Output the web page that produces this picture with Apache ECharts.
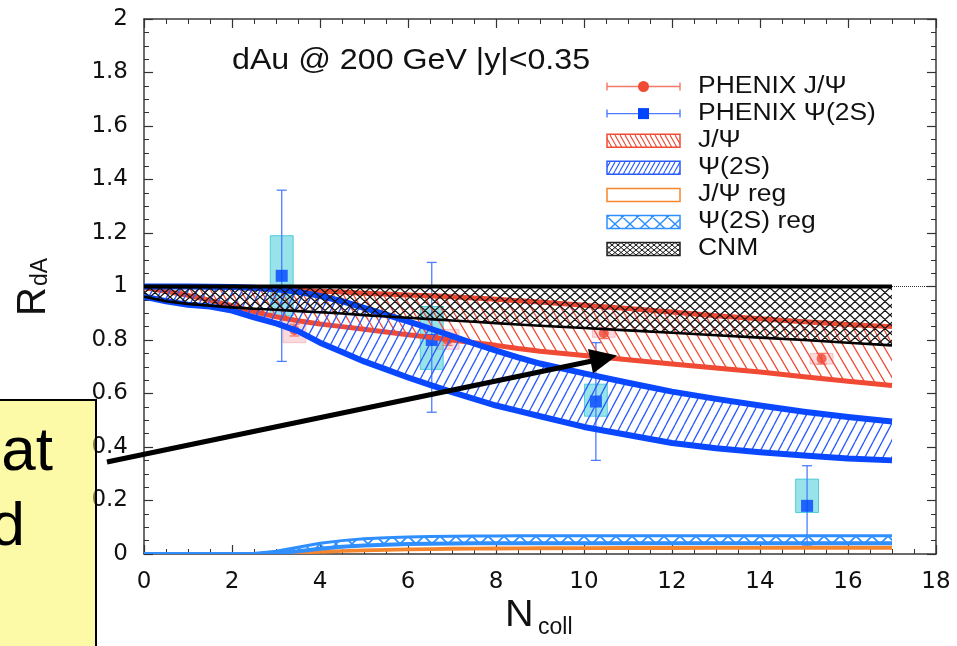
<!DOCTYPE html>
<html>
<head>
<meta charset="utf-8">
<script src="https://cdn.jsdelivr.net/npm/echarts@6/dist/echarts.min.js"></script>
<style>
  html, body { margin: 0; padding: 0; background: #ffffff; }
  #chart { width: 957px; height: 646px; }
</style>
</head>
<body>
<div id="chart"></div>
<script>
// ---- Theory curves, sampled on a common N_coll grid ----
const ncoll = [0, 0.5, 1, 1.5, 2, 2.5, 3, 3.5, 4, 4.5, 5, 5.5, 6, 6.5, 7, 7.5, 8, 8.5, 9, 10, 11, 12, 13, 14, 15, 16, 17];

const cnmHigh = [1, 1, 1, 1, 1, 1, 1, 1, 1, 1, 1, 1, 1, 1, 1, 1, 1, 1, 1, 1, 1, 1, 1, 1, 1, 1, 1];
const cnmLow = [0.962, 0.945, 0.935, 0.928, 0.922, 0.917, 0.913, 0.908, 0.904, 0.899, 0.893, 0.888, 0.883, 0.878, 0.873, 0.868, 0.863, 0.858, 0.853, 0.845, 0.836, 0.827, 0.818, 0.809, 0.800, 0.790, 0.780];

const jpsiHigh = [1.000, 1.000, 1.000, 0.999, 0.997, 0.994, 0.990, 0.986, 0.982, 0.979, 0.975, 0.972, 0.968, 0.965, 0.962, 0.957, 0.952, 0.947, 0.942, 0.930, 0.918, 0.905, 0.891, 0.879, 0.868, 0.858, 0.850];
const jpsiLow = [0.995, 0.982, 0.967, 0.948, 0.928, 0.906, 0.887, 0.872, 0.860, 0.850, 0.840, 0.830, 0.820, 0.810, 0.800, 0.790, 0.780, 0.768, 0.758, 0.742, 0.726, 0.710, 0.695, 0.680, 0.663, 0.646, 0.630];

const psiHigh = [1.000, 1.000, 1.000, 0.999, 0.998, 0.995, 0.990, 0.980, 0.965, 0.945, 0.920, 0.895, 0.870, 0.843, 0.815, 0.787, 0.760, 0.735, 0.712, 0.675, 0.640, 0.607, 0.580, 0.555, 0.532, 0.512, 0.495];
const psiLow = [0.962, 0.945, 0.932, 0.925, 0.910, 0.885, 0.862, 0.833, 0.790, 0.755, 0.720, 0.690, 0.660, 0.632, 0.605, 0.580, 0.555, 0.535, 0.515, 0.475, 0.445, 0.415, 0.395, 0.380, 0.368, 0.357, 0.350];

const psiRegHigh = [0, 0, 0, 0, 0, 0.002, 0.010, 0.025, 0.040, 0.050, 0.057, 0.061, 0.064, 0.065, 0.066, 0.067, 0.067, 0.068, 0.068, 0.068, 0.068, 0.068, 0.068, 0.068, 0.068, 0.068, 0.068];
const psiRegLow = [0, 0, 0, 0, 0, 0, 0.003, 0.010, 0.020, 0.027, 0.032, 0.035, 0.037, 0.038, 0.039, 0.040, 0.040, 0.040, 0.040, 0.040, 0.040, 0.040, 0.040, 0.040, 0.040, 0.040, 0.040];

const jpsiRegHigh = [0, 0, 0, 0, 0, 0, 0.002, 0.005, 0.009, 0.013, 0.016, 0.018, 0.020, 0.021, 0.022, 0.022, 0.023, 0.023, 0.024, 0.024, 0.025, 0.025, 0.025, 0.025, 0.026, 0.026, 0.026];
const jpsiRegLow = [0, 0, 0, 0, 0, 0, 0.001, 0.003, 0.006, 0.009, 0.011, 0.013, 0.015, 0.016, 0.017, 0.018, 0.018, 0.019, 0.019, 0.020, 0.020, 0.020, 0.021, 0.021, 0.021, 0.021, 0.021];

// ---- PHENIX measurements ----
const phxJpsiX = [3.42, 6.9, 10.45, 15.4];
const phxJpsiY = [0.837, 0.80, 0.825, 0.73];
const phxJpsiStatLo = [0.815, 0.78, 0.805, 0.71];
const phxJpsiStatHi = [0.859, 0.82, 0.845, 0.75];
const phxJpsiSysLo = [0.79, 0.765, 0.81, 0.71];
const phxJpsiSysHi = [0.875, 0.84, 0.845, 0.75];

const phxPsiX = [3.13, 6.54, 10.27, 15.07];
const phxPsiY = [1.04, 0.80, 0.57, 0.18];
const phxPsiStatLo = [0.72, 0.53, 0.35, 0.03];
const phxPsiStatHi = [1.36, 1.09, 0.79, 0.33];
const phxPsiSysLo = [0.89, 0.69, 0.515, 0.155];
const phxPsiSysHi = [1.19, 0.925, 0.635, 0.28];

// ---- Axis and label text ----
const xTicks = { min: 0, max: 18, step: 2 };
const yTicks = { min: 0, max: 2, step: 0.2 };
const legendLabels = ['PHENIX J/\u03A8', 'PHENIX \u03A8(2S)', 'J/\u03A8', '\u03A8(2S)', 'J/\u03A8 reg', '\u03A8(2S) reg', 'CNM'];
const titleText = 'dAu @ 200 GeV |y|<0.35';

// ---- Colours ----
const RED = '#f04a34';
const BLUE = '#0a48ff';
const ORANGE = '#f5862e';
const REGBLUE = '#2f8fff';
const ERRBLUE = '#4d7dff';

// Hatch pattern tiles (diagonal "/" , "\" or crossed "x")
function hatch(w, h, color, lw, kind) {
  const c = document.createElement('canvas');
  c.width = w; c.height = h;
  const g = c.getContext('2d');
  g.strokeStyle = color;
  g.lineWidth = lw;
  g.beginPath();
  for (const o of [-w, 0, w]) {
    if (kind === '/' || kind === 'x') { g.moveTo(o, h); g.lineTo(o + w, 0); }
    if (kind === '\\' || kind === 'x') { g.moveTo(o, 0); g.lineTo(o + w, h); }
  }
  g.stroke();
  return { image: c, repeat: 'repeat' };
}

const fillJpsi = hatch(10, 17, RED, 1.3, '\\');
const fillPsi = hatch(9, 17, '#2a5cff', 1.3, '/');
const fillCnm = hatch(10, 9, '#111111', 1.3, 'x');
const fillPsiReg = hatch(16, 16, REGBLUE, 1.7, 'x');

const legJpsi = hatch(5, 9, RED, 1.1, '\\');
const legPsi = hatch(5, 9, '#2a5cff', 1.1, '/');
const legCnm = hatch(6, 5, '#111111', 1.0, 'x');
const legPsiReg = hatch(15, 14, REGBLUE, 1.4, 'x');

// A shaded band between two curves, with its edge lines
function bandSeries(name, lo, hi, fill, hiLine, loLine, z) {
  const data = ncoll.map((x, i) => [x, lo[i], hi[i]]);
  return {
    type: 'custom',
    name: name,
    z: z,
    silent: true,
    clip: true,
    data: data,
    encode: { x: 0, y: [1, 2] },
    renderItem: function (params, api) {
      if (params.dataIndex !== 0) return null;
      const upper = data.map(d => api.coord([d[0], d[2]]));
      const lower = data.map(d => api.coord([d[0], d[1]]));
      const children = [];
      if (fill) {
        children.push({
          type: 'polygon',
          shape: { points: upper.concat(lower.slice().reverse()) },
          style: { fill: fill, stroke: null }
        });
      }
      children.push({
        type: 'polyline',
        shape: { points: upper },
        style: { stroke: hiLine.color, lineWidth: hiLine.width, fill: null, lineJoin: 'round' }
      });
      children.push({
        type: 'polyline',
        shape: { points: lower },
        style: { stroke: loLine.color, lineWidth: loLine.width, fill: null, lineJoin: 'round' }
      });
      return { type: 'group', children: children };
    }
  };
}

// Systematic-uncertainty boxes
function sysBoxes(xs, lo, hi, fill, stroke, z) {
  return {
    type: 'custom', z: z, silent: true,
    data: xs.map((x, i) => [x, lo[i], hi[i]]),
    encode: { x: 0, y: [1, 2] },
    renderItem: function (params, api) {
      const x = api.value(0);
      const a = api.coord([x - 0.26, api.value(2)]);
      const b = api.coord([x + 0.26, api.value(1)]);
      return {
        type: 'rect',
        shape: { x: a[0], y: a[1], width: b[0] - a[0], height: b[1] - a[1] },
        style: { fill: fill, stroke: stroke, lineWidth: 1 }
      };
    }
  };
}

// Statistical error bars with caps
function errorBars(xs, lo, hi, color, z) {
  return {
    type: 'custom', z: z, silent: true,
    data: xs.map((x, i) => [x, lo[i], hi[i]]),
    encode: { x: 0, y: [1, 2] },
    renderItem: function (params, api) {
      const x = api.value(0);
      const p = api.coord([x, api.value(1)]);
      const q = api.coord([x, api.value(2)]);
      const st = { stroke: color, lineWidth: 1.3 };
      return {
        type: 'group',
        children: [
          { type: 'line', shape: { x1: p[0], y1: p[1], x2: q[0], y2: q[1] }, style: st },
          { type: 'line', shape: { x1: p[0] - 5, y1: p[1], x2: p[0] + 5, y2: p[1] }, style: st },
          { type: 'line', shape: { x1: q[0] - 5, y1: q[1], x2: q[0] + 5, y2: q[1] }, style: st }
        ]
      };
    }
  };
}

// ---- Legend (drawn as graphic elements) ----
const legX0 = 607, legX1 = 680, legTextX = 698, legY0 = 86.5, legStep = 27.1;
const legendEls = [];
const legendSwatches = [
  { kind: 'point', color: RED, bar: '#f27868', symbol: 'circle' },
  { kind: 'point', color: '#0044ff', bar: ERRBLUE, symbol: 'square' },
  { kind: 'box', fill: legJpsi, stroke: RED },
  { kind: 'box', fill: legPsi, stroke: '#2a5cff' },
  { kind: 'box', fill: null, stroke: ORANGE },
  { kind: 'box', fill: legPsiReg, stroke: REGBLUE },
  { kind: 'box', fill: legCnm, stroke: '#222222' }
];
legendSwatches.forEach((sw, i) => {
  const y = legY0 + legStep * i;
  if (sw.kind === 'point') {
    const st = { stroke: sw.bar, lineWidth: 1.4 };
    legendEls.push({ type: 'line', z: 50, shape: { x1: legX0, y1: y, x2: legX1, y2: y }, style: st });
    legendEls.push({ type: 'line', z: 50, shape: { x1: legX0, y1: y - 4, x2: legX0, y2: y + 4 }, style: st });
    legendEls.push({ type: 'line', z: 50, shape: { x1: legX1, y1: y - 4, x2: legX1, y2: y + 4 }, style: st });
    const mid = (legX0 + legX1) / 2;
    if (sw.symbol === 'circle') {
      legendEls.push({ type: 'circle', z: 51, shape: { cx: mid, cy: y, r: 5.5 }, style: { fill: sw.color } });
    } else {
      legendEls.push({ type: 'rect', z: 51, shape: { x: mid - 5.5, y: y - 5.5, width: 11, height: 11 }, style: { fill: sw.color } });
    }
  } else {
    legendEls.push({
      type: 'rect', z: 50,
      shape: { x: legX0, y: y - 6.5, width: legX1 - legX0, height: 13 },
      style: { fill: sw.fill || 'rgba(0,0,0,0)', stroke: sw.stroke, lineWidth: 1.5 }
    });
  }
  legendEls.push({
    type: 'text', z: 50, x: legTextX, y: y, scaleX: 1.15,
    style: {
      text: legendLabels[i], fill: '#111111',
      fontSize: 23, fontFamily: '"Liberation Sans", Arial, sans-serif',
      verticalAlign: 'middle', align: 'left'
    }
  });
});

const axisLineStyle = { color: '#3a3a3a', width: 1.5 };
const tickFont = { color: '#111', fontSize: 23, fontFamily: '"DejaVu Sans", sans-serif' };
function xAxisDef(position, showLabel) {
  return {
    type: 'value', position: position,
    min: xTicks.min, max: xTicks.max, interval: xTicks.step,
    axisLine: { show: true, onZero: false, lineStyle: axisLineStyle },
    axisTick: { show: true, inside: true, length: 9, lineStyle: { color: '#333', width: 1.2 } },
    minorTick: { show: true, splitNumber: 4, length: 5, lineStyle: { color: '#333', width: 1 } },
    splitLine: { show: false },
    axisLabel: Object.assign({ show: showLabel, margin: 17, showMinLabel: true, showMaxLabel: true }, tickFont)
  };
}
function yAxisDef(position, showLabel) {
  return {
    type: 'value', position: position,
    min: yTicks.min, max: yTicks.max, interval: yTicks.step,
    axisLine: { show: true, onZero: false, lineStyle: axisLineStyle },
    axisTick: { show: true, inside: true, length: 9, lineStyle: { color: '#333', width: 1.2 } },
    minorTick: { show: true, splitNumber: 4, length: 5, lineStyle: { color: '#333', width: 1 } },
    splitLine: { show: false },
    axisLabel: Object.assign({ show: showLabel, margin: 16, showMinLabel: true, showMaxLabel: true }, tickFont)
  };
}

const option = {
  animation: false,
  backgroundColor: '#ffffff',
  textStyle: { fontFamily: '"Liberation Sans", Arial, sans-serif' },
  grid: { left: 144, right: 21, top: 19, bottom: 92, containLabel: false, outerBoundsMode: 'none' },
  xAxis: [xAxisDef('bottom', true), xAxisDef('top', false)],
  yAxis: [yAxisDef('left', true), yAxisDef('right', false)],
  legend: { show: false },
  tooltip: { show: false },
  series: [
    {
      type: 'line', name: 'unity', z: 1, silent: true,
      data: [[xTicks.min, 1], [xTicks.max, 1]],
      symbol: 'none',
      lineStyle: { color: '#333', width: 1, type: 'dotted' }
    },
    sysBoxes(phxJpsiX, phxJpsiSysLo, phxJpsiSysHi, 'rgba(244,150,160,0.35)', 'rgba(244,150,160,0.5)', 2),
    sysBoxes(phxPsiX, phxPsiSysLo, phxPsiSysHi, 'rgba(40,195,210,0.48)', 'rgba(40,195,210,0.75)', 2),
    errorBars(phxJpsiX, phxJpsiStatLo, phxJpsiStatHi, '#f27868', 3),
    errorBars(phxPsiX, phxPsiStatLo, phxPsiStatHi, ERRBLUE, 3),
    {
      type: 'scatter', name: 'PHENIX J/\u03A8', z: 4, silent: true,
      data: phxJpsiX.map((x, i) => [x, phxJpsiY[i]]),
      symbol: 'circle', symbolSize: 10,
      itemStyle: { color: RED }
    },
    {
      type: 'scatter', name: 'PHENIX \u03A8(2S)', z: 4, silent: true,
      data: phxPsiX.map((x, i) => [x, phxPsiY[i]]),
      symbol: 'rect', symbolSize: 12,
      itemStyle: { color: '#0044ff' }
    },
    bandSeries('J/\u03A8', jpsiLow, jpsiHigh, fillJpsi, { color: RED, width: 5 }, { color: RED, width: 5 }, 5),
    bandSeries('\u03A8(2S)', psiLow, psiHigh, fillPsi, { color: BLUE, width: 6 }, { color: BLUE, width: 6 }, 6),
    bandSeries('CNM', cnmLow, cnmHigh, fillCnm, { color: '#000000', width: 4 }, { color: '#000000', width: 2.6 }, 7),
    bandSeries('J/\u03A8 reg', jpsiRegLow, jpsiRegHigh, null, { color: ORANGE, width: 2.5 }, { color: ORANGE, width: 2.5 }, 8),
    bandSeries('\u03A8(2S) reg', psiRegLow, psiRegHigh, fillPsiReg, { color: REGBLUE, width: 3 }, { color: REGBLUE, width: 4 }, 9)
  ],
  graphic: {
    elements: [
      {
        type: 'text', z: 50, x: 232, y: 61, scaleX: 1.11,
        style: {
          text: titleText, fill: '#111111', fontSize: 29,
          fontFamily: '"Liberation Sans", Arial, sans-serif',
          verticalAlign: 'middle', align: 'left'
        }
      },
      // y-axis title R_dA (rotated)
      {
        type: 'group', x: 34, y: 316, rotation: Math.PI / 2, z: 50,
        children: [
          { type: 'text', x: 0, y: 0, style: { text: 'R', fill: '#111', fontSize: 40, fontFamily: '"Liberation Sans", Arial, sans-serif', verticalAlign: 'middle', align: 'left' } },
          { type: 'text', x: 30, y: 7, style: { text: 'dA', fill: '#111', fontSize: 23, fontFamily: '"Liberation Sans", Arial, sans-serif', verticalAlign: 'middle', align: 'left' } }
        ]
      },
      // x-axis title N_coll
      {
        type: 'group', x: 505, y: 616, z: 50,
        children: [
          { type: 'text', x: 0, y: 0, scaleX: 1.1, style: { text: 'N', fill: '#111', fontSize: 36, fontFamily: '"Liberation Sans", Arial, sans-serif', verticalAlign: 'middle', align: 'left' } },
          { type: 'text', x: 33, y: 12, style: { text: 'coll', fill: '#111', fontSize: 23, fontFamily: '"Liberation Sans", Arial, sans-serif', verticalAlign: 'middle', align: 'left' } }
        ]
      },
      // annotation arrow
      {
        type: 'line', z: 60,
        shape: { x1: 107, y1: 462, x2: 592, y2: 361 },
        style: { stroke: '#000000', lineWidth: 5 }
      },
      {
        type: 'polygon', z: 60,
        shape: { points: [[617, 355.5], [588, 349], [593, 373.5]] },
        style: { fill: '#000000' }
      },
      // callout box on the left
      {
        type: 'rect', z: 70,
        shape: { x: -10, y: 400, width: 106, height: 260 },
        style: { fill: 'rgba(250,245,80,0.5)', stroke: '#000000', lineWidth: 2 }
      },
      {
        type: 'text', z: 71, x: 53, y: 453,
        style: { text: 'at', fill: '#000', fontSize: 62, fontFamily: '"Liberation Sans", Arial, sans-serif', verticalAlign: 'middle', align: 'right' }
      },
      {
        type: 'text', z: 71, x: 25, y: 528,
        style: { text: 'd', fill: '#000', fontSize: 62, fontFamily: '"Liberation Sans", Arial, sans-serif', verticalAlign: 'middle', align: 'right' }
      }
    ].concat(legendEls)
  }
};

const chart = echarts.init(document.getElementById('chart'), null, { renderer: 'canvas' });
chart.setOption(option);
</script>
</body>
</html>
